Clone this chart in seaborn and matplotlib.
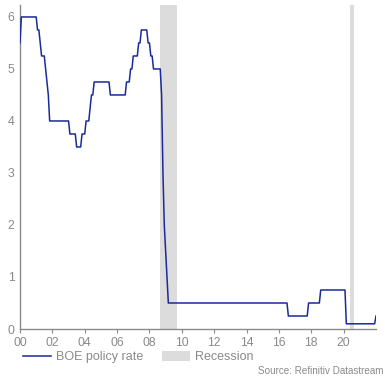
import numpy as np
import pandas as pd
import matplotlib
matplotlib.use("Agg")
from matplotlib import pyplot as plt
from matplotlib.lines import Line2D
from matplotlib.patches import Patch
import seaborn as sns

# BOE policy rate, monthly breakpoints (month before / month of each change)
dates = ['2000-01', '2000-02', '2001-01', '2001-02', '2001-03', '2001-04', '2001-05',
         '2001-07', '2001-08', '2001-09', '2001-10', '2001-11',
         '2003-01', '2003-02', '2003-06', '2003-07', '2003-10', '2003-11',
         '2004-01', '2004-02', '2004-04', '2004-05', '2004-06', '2004-07', '2004-08',
         '2005-07', '2005-08', '2006-07', '2006-08', '2006-10', '2006-11',
         '2006-12', '2007-01', '2007-04', '2007-05', '2007-06', '2007-07',
         '2007-11', '2007-12', '2008-01', '2008-02', '2008-03', '2008-04',
         '2008-09', '2008-10', '2008-11', '2008-12', '2009-01', '2009-02', '2009-03',
         '2016-07', '2016-08', '2017-10', '2017-11', '2018-07', '2018-08',
         '2020-02', '2020-03', '2021-12', '2022-01']
rate = [5.5, 6.0, 6.0, 5.75, 5.75, 5.5, 5.25,
        5.25, 5.0, 4.75, 4.5, 4.0,
        4.0, 3.75, 3.75, 3.5, 3.5, 3.75,
        3.75, 4.0, 4.0, 4.25, 4.5, 4.5, 4.75,
        4.75, 4.5, 4.5, 4.75, 4.75, 5.0,
        5.0, 5.25, 5.25, 5.5, 5.5, 5.75,
        5.75, 5.5, 5.5, 5.25, 5.25, 5.0,
        5.0, 4.5, 3.0, 2.0, 1.5, 1.0, 0.5,
        0.5, 0.25, 0.25, 0.5, 0.5, 0.75,
        0.75, 0.1, 0.1, 0.25]

# recession periods (decimal years)
rec_start = [2008.67, 2020.42]
rec_end = [2009.70, 2020.67]

dt = pd.to_datetime(dates)
df = pd.DataFrame({'year': dt.year + (dt.month - 1) / 12, 'rate': rate})

line_col = '#1a2a9a'
grey = '#8a8a8a'

plt.rcParams['font.family'] = ['Liberation Sans', 'DejaVu Sans']

fig = plt.figure(figsize=(3.85, 3.76), dpi=100)
ax = fig.add_axes([20 / 385, 1 - 329 / 376, (376 - 20) / 385, (329 - 5) / 376])

for s, e in zip(rec_start, rec_end):
    ax.axvspan(s, e, color='#dcdcdc', lw=0, zorder=0)

sns.lineplot(data=df, x='year', y='rate', color=line_col, lw=1.1, ax=ax, zorder=3)

ax.set_xlim(2000, 2022)
ax.set_ylim(0, 6.23)
ax.set_xticks(np.arange(2000, 2021, 2))
ax.set_xticklabels(['00', '02', '04', '06', '08', '10', '12', '14', '16', '18', '20'])
ax.set_yticks(range(7))
ax.set_xlabel('')
ax.set_ylabel('')

for side in ['top', 'right']:
    ax.spines[side].set_visible(False)
for side in ['left', 'bottom']:
    ax.spines[side].set_color(grey)
    ax.spines[side].set_linewidth(1.0)
ax.tick_params(axis='x', colors=grey, labelsize=8.8, length=3, pad=2.5, labelcolor=grey)
ax.tick_params(axis='y', colors=grey, labelsize=8.8, length=0, pad=4, labelcolor=grey)

handles = [Line2D([0], [0], color=line_col, lw=1.1),
           Patch(facecolor='#dcdcdc', edgecolor='none')]
fig.legend(handles, ['BOE policy rate', 'Recession'], loc='center left',
           bbox_to_anchor=(23 / 385, 1 - 357 / 376), ncol=2, frameon=False,
           fontsize=9, handlelength=2.2, handleheight=0.85, handletextpad=0.45,
           columnspacing=1.5, borderpad=0, borderaxespad=0, labelcolor=grey)

fig.text(383 / 385, 1 - 371 / 376, 'Source: Refinitiv Datastream', fontsize=7.1,
         color=grey, ha='right', va='center')

fig.savefig('out.png', dpi=100)
